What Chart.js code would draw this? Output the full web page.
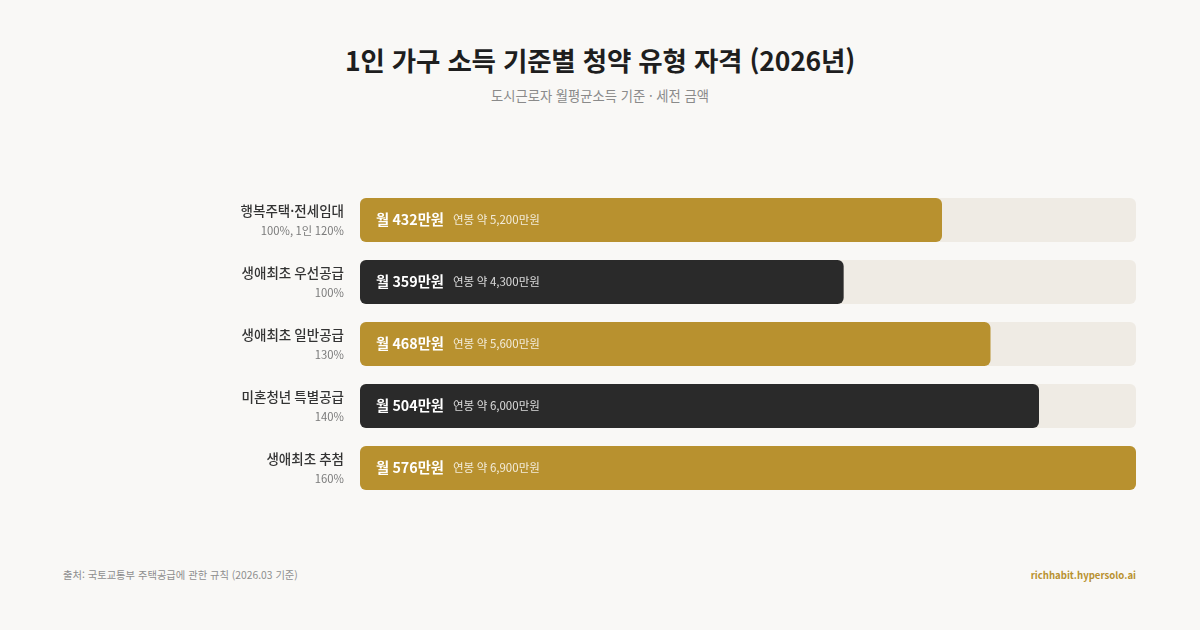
<!DOCTYPE html>
<html lang="ko">
<head>
<meta charset="utf-8">
<script src="https://cdn.jsdelivr.net/npm/chart.js@4.4.1/dist/chart.umd.min.js"></script>
<style>
  html, body { margin: 0; padding: 0; }
  body { width: 1200px; height: 630px; background: #f9f8f6; position: relative; overflow: hidden;
         font-family: "Noto Sans CJK KR", "Noto Sans", sans-serif; }
  h1 { position: absolute; top: 40px; left: 0; width: 1200px; margin: 0; text-align: center;
       font-size: 26.5px; font-weight: 700; color: #1e1e1e; letter-spacing: -0.2px; }
  .sub { position: absolute; top: 86px; left: 0; width: 1200px; text-align: center;
         font-size: 13.3px; color: #8a8a8a; }
  #wrap { position: absolute; left: 190px; top: 189px; width: 946px; height: 310px; }
  .foot { position: absolute; top: 567px; font-size: 10.3px; color: #8e8e8e; }
  .foot.l { left: 63px; }
  .foot.r { right: 64px; top: 568px; font-size: 9.6px; color: #b8912f; font-weight: 700; }
</style>
</head>
<body>
<h1>1인 가구 소득 기준별 청약 유형 자격 (2026년)</h1>
<div class="sub">도시근로자 월평균소득 기준 · 세전 금액</div>
<div id="wrap"><canvas id="chart"></canvas></div>
<div class="foot l">출처: 국토교통부 주택공급에 관한 규칙 (2026.03 기준)</div>
<div class="foot r">richhabit.hypersolo.ai</div>
<script>
const categories = ["행복주택·전세임대", "생애최초 우선공급", "생애최초 일반공급", "미혼청년 특별공급", "생애최초 추첨"];
const ratioLabels = ["100%, 1인 120%", "100%", "130%", "140%", "160%"];
const monthlyIncome = [432, 359, 468, 504, 576];   // 만원
const annualIncome = ["5,200", "4,300", "5,600", "6,000", "6,900"];  // 만원

const GOLD = "#b8912f", DARK = "#2a2a2a", TRACK = "#efebe4";
const barColors = monthlyIncome.map((v, i) => i % 2 === 0 ? GOLD : DARK);
const xMax = Math.max(...monthlyIncome);
const FONT = '"Noto Sans CJK KR", "Noto Sans", sans-serif';

// left labels + text inside bars
const labelPlugin = {
  id: "labels",
  afterDatasetsDraw(chart) {
    const ctx = chart.ctx;
    const meta = chart.getDatasetMeta(1);
    const left = chart.chartArea.left;
    ctx.save();
    meta.data.forEach((bar, i) => {
      const y = bar.y;
      ctx.textAlign = "right";
      ctx.textBaseline = "middle";
      ctx.fillStyle = "#333";
      ctx.font = "500 13.5px " + FONT;
      ctx.fillText(categories[i], left - 16, y - 9);
      ctx.fillStyle = "#7a7a7a";
      ctx.font = "400 11.3px " + FONT;
      ctx.fillText(ratioLabels[i], left - 16, y + 11);

      ctx.textAlign = "left";
      const main = "월 " + monthlyIncome[i] + "만원";
      ctx.font = "700 14.3px " + FONT;
      ctx.fillStyle = "#ffffff";
      const x0 = bar.base + 16;
      ctx.fillText(main, x0, y);
      const w = ctx.measureText(main).width;
      ctx.font = "400 11.5px " + FONT;
      ctx.fillStyle = "rgba(255,255,255,0.82)";
      ctx.fillText("연봉 약 " + annualIncome[i] + "만원", x0 + w + 9, y);
    });
    ctx.restore();
  }
};

new Chart(document.getElementById("chart"), {
  type: "bar",
  data: {
    labels: categories,
    datasets: [
      {
        label: "track",
        data: monthlyIncome.map(() => xMax),
        backgroundColor: TRACK,
        borderRadius: 6,
        borderSkipped: false,
        grouped: false,
        order: 2,
        barPercentage: 1,
        categoryPercentage: 0.71
      },
      {
        label: "월평균소득",
        data: monthlyIncome,
        backgroundColor: barColors,
        borderRadius: 6,
        borderSkipped: false,
        grouped: false,
        order: 1,
        barPercentage: 1,
        categoryPercentage: 0.71
      }
    ]
  },
  options: {
    indexAxis: "y",
    responsive: true,
    maintainAspectRatio: false,
    animation: false,
    layout: { padding: { left: 170, right: 0, top: 0, bottom: 0 } },
    plugins: { legend: { display: false }, tooltip: { enabled: false } },
    scales: {
      x: { min: 0, max: xMax, display: false },
      y: { display: false }
    }
  },
  plugins: [labelPlugin]
});
</script>
</body>
</html>
